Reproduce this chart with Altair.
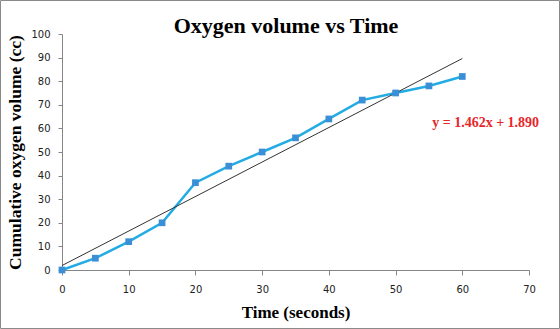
import altair as alt
import pandas as pd

time_s = [0, 5, 10, 15, 20, 25, 30, 35, 40, 45, 50, 55, 60]
oxygen_cc = [0, 5, 12, 20, 37, 44, 50, 56, 64, 72, 75, 78, 82]
slope = 1.462
intercept = 1.890
trend_x = [0, 60]
equation_label = "y = 1.462x + 1.890"
chart_title = "Oxygen volume vs Time"
x_ticks = [0, 10, 20, 30, 40, 50, 60, 70]
y_ticks = [0, 10, 20, 30, 40, 50, 60, 70, 80, 90, 100]

df = pd.DataFrame({"t": time_s, "v": oxygen_cc})
trend = pd.DataFrame({"t": trend_x, "v": [slope * x + intercept for x in trend_x]})
eq = pd.DataFrame({"t": [63.5], "v": [62.5], "label": [equation_label]})

W, H = 467, 236
PL, PT, PR, PB = 62, 34, 31, 59

xscale = alt.Scale(domain=[0, 70], nice=False, zero=True)
yscale = alt.Scale(domain=[0, 100], nice=False, zero=True)

xaxis = alt.Axis(values=x_ticks, grid=False, tickSize=5,
                 domainColor="#868686", tickColor="#868686", labelColor="#222",
                 labelFont="DejaVu Sans", labelFontSize=10, labelPadding=9,
                 labelFlush=False, labelOverlap=False,
                 title="Time (seconds)", titleFont="Liberation Serif", titleFontSize=17,
                 titleFontWeight="bold", titleColor="#000", titlePadding=10)
yaxis = alt.Axis(values=y_ticks, grid=False, tickSize=4,
                 domainColor="#868686", tickColor="#868686", labelColor="#222",
                 labelFont="DejaVu Sans", labelFontSize=10, labelPadding=8,
                 labelFlush=False, labelOverlap=False,
                 title="Cumulative oxygen volume (cc)", titleFont="Liberation Serif",
                 titleFontSize=17.5, titleFontWeight="bold", titleColor="#000",
                 titlePadding=6)

X = alt.X("t:Q", scale=xscale, axis=xaxis)
Y = alt.Y("v:Q", scale=yscale, axis=yaxis)

trend_line = alt.Chart(trend).mark_line(color="#333333", strokeWidth=1).encode(x=X, y=Y)
line = alt.Chart(df).mark_line(color="#22ACE3", strokeWidth=2.5).encode(x=X, y=Y)
points = alt.Chart(df).mark_point(shape="square", filled=True, size=45, color="#3A8FD6",
                                  opacity=1).encode(x=X, y=Y)
eq_text = alt.Chart(eq).mark_text(color="#E8262A", font="Liberation Serif", fontSize=14,
                                  fontWeight="bold").encode(x=X, y=Y, text="label:N")

one = pd.DataFrame({"label": [chart_title]})

border = alt.Chart(one).mark_rect(
    fill=None, stroke="#8a8a8a", strokeWidth=1, clip=False).encode(
    x=alt.value(-PL + 0.5), x2=alt.value(W + PR - 0.5),
    y=alt.value(-PT + 0.5), y2=alt.value(H + PB - 0.5))

title_text = alt.Chart(one).mark_text(
    font="Liberation Serif", fontSize=22, fontWeight="bold", color="#000",
    baseline="alphabetic", align="center").encode(
    x=alt.value(224), y=alt.value(-1), text="label:N")

chart = alt.layer(line, trend_line, points, eq_text, title_text, border).properties(
    width=W, height=H,
    autosize=alt.AutoSizeParams(type="none"),
    padding={"left": PL, "top": PT, "right": PR, "bottom": PB},
    background="white",
).configure_view(stroke=None)

chart.save("out.html", embed_options={"renderer": "svg", "actions": False})
